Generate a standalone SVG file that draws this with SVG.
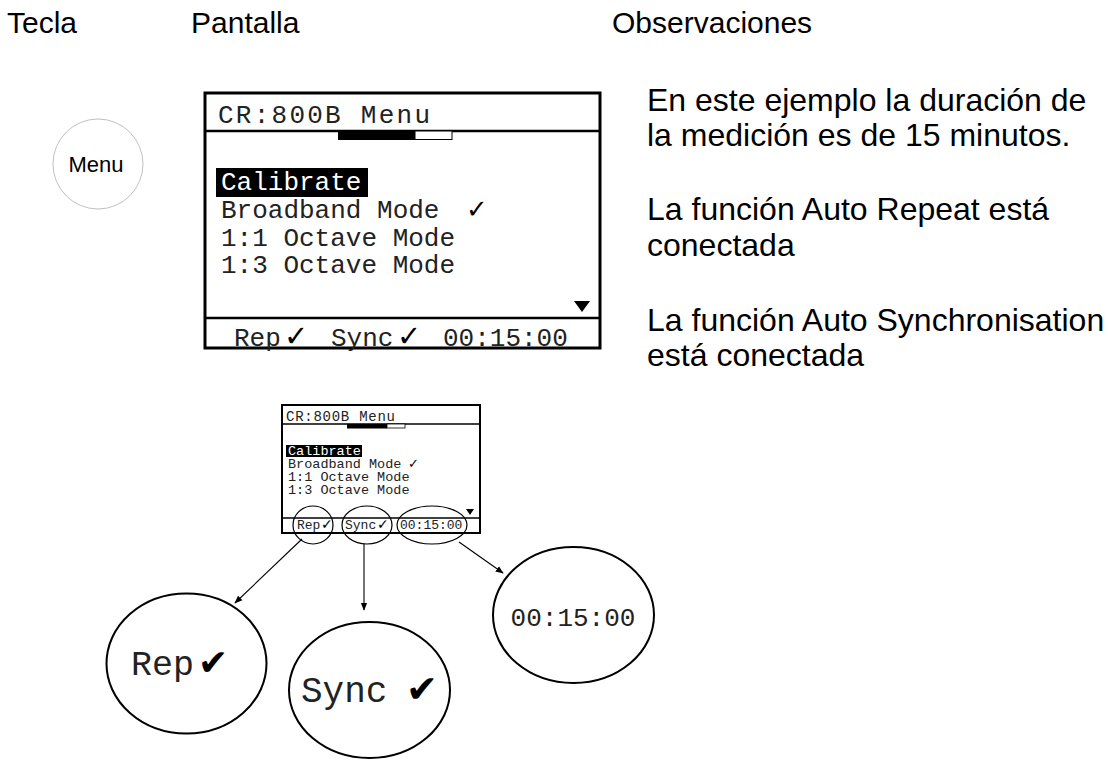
<svg xmlns="http://www.w3.org/2000/svg" width="1108" height="763" viewBox="0 0 1108 763">
<defs>
<style>
.hdr{font-family:"Liberation Sans",Arial,sans-serif;font-size:30px;fill:#000}
.obs{font-family:"Liberation Sans",Arial,sans-serif;font-size:32px;fill:#000}
.mono{font-family:"Liberation Mono","Courier New",monospace;fill:#222}
.chk{font-family:"DejaVu Sans",sans-serif;fill:#000}
.ln{stroke:#000;fill:none}
.conn{stroke:#000;stroke-width:1.1;fill:none;marker-end:url(#ah)}
</style>
<marker id="ah" viewBox="0 0 10 10" refX="9" refY="5" markerWidth="8" markerHeight="8" orient="auto" markerUnits="userSpaceOnUse">
<path d="M0,1 L10,5 L0,9 z" fill="#000"/>
</marker>
</defs>
<rect width="1108" height="763" fill="#fff"/>

<g id="headers">
<text class="hdr" x="7" y="33">Tecla</text>
<text class="hdr" x="191" y="33">Pantalla</text>
<text class="hdr" x="612" y="33">Observaciones</text>
</g>

<g id="menu-key">
<circle cx="98" cy="164" r="45" fill="#fff" stroke="#c0c0c0" stroke-width="1"/>
<text x="96" y="172" text-anchor="middle" font-family="Liberation Sans, Arial, sans-serif" font-size="22" fill="#000">Menu</text>
</g>

<g id="screen-large">
<rect x="205" y="93" width="395" height="255" fill="#fff" stroke="#000" stroke-width="3"/>
<text class="mono" x="218" y="123" font-size="26" textLength="212" lengthAdjust="spacing">CR:800B Menu</text>
<line class="ln" x1="205" y1="131" x2="600" y2="131" stroke-width="2.5"/>
<rect x="338" y="131" width="77" height="9" fill="#000"/>
<rect x="415" y="131" width="37" height="8.5" fill="#fff" stroke="#000" stroke-width="1"/>
<rect x="216" y="168" width="152" height="29" fill="#000"/>
<text class="mono" x="221" y="190" font-size="26" style="fill:#fff">Calibrate</text>
<text class="mono" x="221" y="218" font-size="26">Broadband Mode</text>
<text class="chk" x="466" y="218" font-size="26">✓</text>
<text class="mono" x="221" y="246" font-size="26">1:1 Octave Mode</text>
<text class="mono" x="221" y="273" font-size="26">1:3 Octave Mode</text>
<path d="M574,301 L590,301 L582,312 z" fill="#000"/>
<line class="ln" x1="205" y1="318" x2="600" y2="318" stroke-width="2.5"/>
<text class="mono" x="234" y="346" font-size="26">Rep</text>
<text class="chk" x="284" y="346" font-size="29">✓</text>
<text class="mono" x="331" y="346" font-size="26">Sync</text>
<text class="chk" x="397" y="346" font-size="29">✓</text>
<text class="mono" x="443" y="346" font-size="26">00:15:00</text>
</g>

<g id="notes">
<text class="obs" x="647" y="111">En este ejemplo la duración de</text>
<text class="obs" x="647" y="146">la medición es de 15 minutos.</text>
<text class="obs" x="647" y="220">La función Auto Repeat está</text>
<text class="obs" x="647" y="256">conectada</text>
<text class="obs" x="647" y="331">La función Auto Synchronisation</text>
<text class="obs" x="647" y="366">está conectada</text>
</g>

<g id="screen-small">
<rect x="282" y="405" width="198" height="128" fill="#fff" stroke="#000" stroke-width="2"/>
<text class="mono" x="286" y="421" font-size="14" textLength="109" lengthAdjust="spacing">CR:800B Menu</text>
<line class="ln" x1="283" y1="424" x2="480" y2="424" stroke-width="1.3"/>
<rect x="347" y="424" width="40" height="4.5" fill="#000"/>
<rect x="387" y="424" width="18" height="4" fill="#fff" stroke="#000" stroke-width="0.8"/>
<rect x="286" y="445" width="76" height="12" fill="#000"/>
<text class="mono" x="288" y="455" font-size="13.5" style="fill:#fff">Calibrate</text>
<text class="mono" x="288" y="468" font-size="13.5">Broadband Mode</text>
<text class="chk" x="408" y="468" font-size="13">✓</text>
<text class="mono" x="288" y="481" font-size="13.5">1:1 Octave Mode</text>
<text class="mono" x="288" y="494" font-size="13.5">1:3 Octave Mode</text>
<path d="M466,509 L474,509 L470,515 z" fill="#000"/>
<line class="ln" x1="283" y1="518" x2="480" y2="518" stroke-width="1.3"/>
<text class="mono" x="297" y="529" font-size="13">Rep</text>
<text class="chk" x="321" y="529" font-size="14">✓</text>
<text class="mono" x="345" y="529" font-size="13">Sync</text>
<text class="chk" x="377" y="529" font-size="14">✓</text>
<text class="mono" x="400" y="529" font-size="13">00:15:00</text>
<ellipse cx="313" cy="525" rx="20" ry="19" class="ln" stroke-width="1.2"/>
<ellipse cx="367" cy="525" rx="25" ry="19" class="ln" stroke-width="1.2"/>
<ellipse cx="432" cy="525" rx="35" ry="19" class="ln" stroke-width="1.2"/>
</g>

<g id="rep-node">
<ellipse cx="186.5" cy="663.5" rx="80" ry="70" class="ln" stroke-width="2"/>
<text class="mono" x="131" y="675" font-size="35">Rep</text>
<text class="chk" x="198" y="675" font-size="36" font-weight="bold">✔</text>
</g>

<g id="sync-node">
<ellipse cx="369.5" cy="690" rx="80.5" ry="68" class="ln" stroke-width="2"/>
<text class="mono" x="301" y="702" font-size="36">Sync</text>
<text class="chk" x="406" y="702" font-size="38" font-weight="bold">✔</text>
</g>

<g id="time-node">
<ellipse cx="573.5" cy="615" rx="80.5" ry="68" class="ln" stroke-width="2"/>
<text class="mono" x="573" y="626" font-size="26" text-anchor="middle">00:15:00</text>
</g>

<g id="connectors">
<line class="conn" x1="302" y1="539" x2="235" y2="603"/>
<line class="conn" x1="364" y1="544" x2="364" y2="610"/>
<line class="conn" x1="459" y1="542" x2="503" y2="573"/>
</g>
</svg>
